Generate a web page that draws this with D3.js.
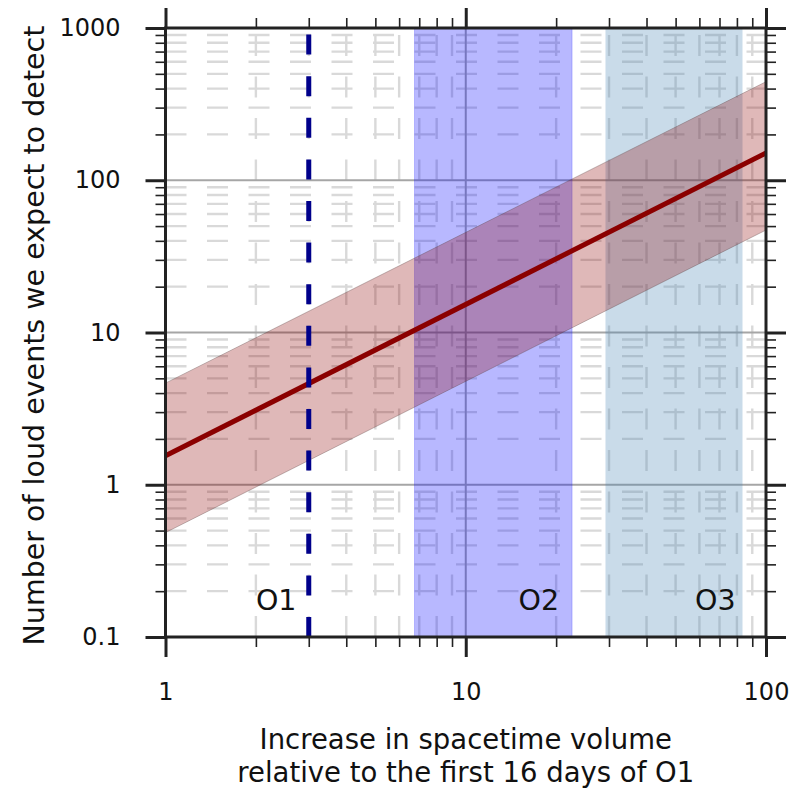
<!DOCTYPE html>
<html><head><meta charset="utf-8">
<script src="https://cdn.jsdelivr.net/npm/d3@7"></script>
<style>body{margin:0;background:#fff} svg{display:block}</style>
</head><body><svg id="c" width="790" height="791"></svg>
<script>
// ---- data ----
const xDomain = [1, 100];
const yDomain = [0.1, 1000];
const xMajorTicks = [1, 10, 100];
const xTickLabels = ["1", "10", "100"];
const yMajorTicks = [0.1, 1, 10, 100, 1000];
const yTickLabels = ["0.1", "1", "10", "100", "1000"];
const lineX = [1, 100];
const lineY = [1.55, 151];
const bandLower = [0.485, 47.1];
const bandUpper = [4.65, 444];
const o1Line = 3;
const runNames = ["O1", "O2", "O3"];
const runLabelX = [2, 15, 58];
const runLabelY = 0.15;
const o2Span = [6.75, 22.6];
const o3Span = [29.2, 83.5];
const xTitle = ["Increase in spacetime volume", "relative to the first 16 days of O1"];
const yTitle = "Number of loud events we expect to detect";

// ---- layout ----
const L = 165.5, R = 766, T = 28, B = 637;
const FONT = "'DejaVu Sans', sans-serif";
const svg = d3.select("#c");
const x = d3.scaleLog().domain(xDomain).range([L, R]);
const y = d3.scaleLog().domain(yDomain).range([B, T]);
const xAll = x.ticks();
const yAll = y.ticks();
const xMinor = xAll.filter(v => !xMajorTicks.some(m => Math.abs(m - v) < 1e-9));
const yMinor = yAll.filter(v => !yMajorTicks.some(m => Math.abs(m - v) / m < 1e-9));

// minor grid (dashed)
const g = svg.append("g");
g.selectAll("line.hmin").data(yMinor).join("line")
  .attr("x1", L).attr("x2", R).attr("y1", d => y(d)).attr("y2", d => y(d))
  .attr("stroke", "#d9d9d9").attr("stroke-width", 2.4).attr("stroke-dasharray", "21,20.5");
g.selectAll("line.vmin").data(xMinor).join("line")
  .attr("x1", d => x(d)).attr("x2", d => x(d)).attr("y1", B).attr("y2", T)
  .attr("stroke", "#d9d9d9").attr("stroke-width", 2.4).attr("stroke-dasharray", "21,20.5");
// major grid
g.selectAll("line.hmaj").data(yMajorTicks.slice(1, -1)).join("line")
  .attr("x1", L).attr("x2", R).attr("y1", d => y(d)).attr("y2", d => y(d))
  .attr("stroke", "#a6a6a6").attr("stroke-width", 2);
g.selectAll("line.vmaj").data(xMajorTicks.slice(1, -1)).join("line")
  .attr("x1", d => x(d)).attr("x2", d => x(d)).attr("y1", B).attr("y2", T)
  .attr("stroke", "#a6a6a6").attr("stroke-width", 2);

// run spans
svg.append("rect").attr("x", x(o2Span[0])).attr("y", T)
  .attr("width", x(o2Span[1]) - x(o2Span[0])).attr("height", B - T)
  .attr("fill", "rgb(0,0,255)").attr("fill-opacity", 0.28)
  .attr("stroke", "rgb(0,0,255)").attr("stroke-opacity", 0.2).attr("stroke-width", 1);
svg.append("rect").attr("x", x(o3Span[0])).attr("y", T)
  .attr("width", x(o3Span[1]) - x(o3Span[0])).attr("height", B - T)
  .attr("fill", "rgb(70,130,180)").attr("fill-opacity", 0.29);

// band
const bandData = lineX.map((v, i) => ({x: v, lo: bandLower[i], hi: bandUpper[i]}));
svg.append("path").datum(bandData)
  .attr("d", d3.area().x(d => x(d.x)).y0(d => y(d.lo)).y1(d => y(d.hi)))
  .attr("fill", "rgb(139,0,0)").attr("fill-opacity", 0.28)
  .attr("stroke", "rgb(90,60,60)").attr("stroke-opacity", 0.35).attr("stroke-width", 1);

// central line
svg.append("path").datum(lineX.map((v, i) => [v, lineY[i]]))
  .attr("d", d3.line().x(d => x(d[0])).y(d => y(d[1])))
  .attr("fill", "none").attr("stroke", "#8b0000").attr("stroke-width", 5);

// O1 dashed line
svg.append("line").attr("x1", x(o1Line)).attr("x2", x(o1Line)).attr("y1", B).attr("y2", T)
  .attr("stroke", "#00008b").attr("stroke-width", 5).attr("stroke-dasharray", "20,21.6");

// run labels
svg.selectAll("text.run").data(runNames).join("text")
  .attr("x", (d, i) => x(runLabelX[i])).attr("y", y(runLabelY))
  .attr("font-family", FONT).attr("font-size", 28.5).attr("fill", "#111")
  .text(d => d);

// axes
function styleAxis(sel, w) {
  sel.select(".domain").remove();
  sel.selectAll(".tick line").attr("stroke", "#222").attr("stroke-width", w);
  sel.selectAll("text").attr("font-family", FONT).attr("font-size", 24).attr("fill", "#111");
}
const noLab = () => "";
// bottom
svg.append("g").attr("transform", `translate(0,${B})`)
  .call(d3.axisBottom(x).tickValues(xMinor).tickSize(10).tickFormat(noLab)).call(s => styleAxis(s, 1.6));
svg.append("g").attr("transform", `translate(0,${B})`)
  .call(d3.axisBottom(x).tickValues(xMajorTicks).tickSize(20).tickPadding(26)
    .tickFormat((d, i) => xTickLabels[i])).call(s => styleAxis(s, 3));
// top
svg.append("g").attr("transform", `translate(0,${T})`)
  .call(d3.axisTop(x).tickValues(xMinor).tickSize(10).tickFormat(noLab)).call(s => styleAxis(s, 1.6));
svg.append("g").attr("transform", `translate(0,${T})`)
  .call(d3.axisTop(x).tickValues(xMajorTicks).tickSize(20).tickFormat(noLab)).call(s => styleAxis(s, 3));
// left
svg.append("g").attr("transform", `translate(${L},0)`)
  .call(d3.axisLeft(y).tickValues(yMinor).tickSize(10).tickFormat(noLab)).call(s => styleAxis(s, 1.6));
svg.append("g").attr("transform", `translate(${L},0)`)
  .call(d3.axisLeft(y).tickValues(yMajorTicks).tickSize(20).tickPadding(25)
    .tickFormat((d, i) => yTickLabels[i])).call(s => styleAxis(s, 3));
// right
svg.append("g").attr("transform", `translate(${R},0)`)
  .call(d3.axisRight(y).tickValues(yMinor).tickSize(10).tickFormat(noLab)).call(s => styleAxis(s, 1.6));
svg.append("g").attr("transform", `translate(${R},0)`)
  .call(d3.axisRight(y).tickValues(yMajorTicks).tickSize(20).tickFormat(noLab)).call(s => styleAxis(s, 3));

// frame
svg.append("rect").attr("x", L).attr("y", T).attr("width", R - L).attr("height", B - T)
  .attr("fill", "none").attr("stroke", "#222").attr("stroke-width", 3);

// titles
svg.selectAll("text.xt").data(xTitle).join("text").attr("class", "xt")
  .attr("text-anchor", "middle").attr("x", (L + R) / 2).attr("y", (d, i) => 749 + i * 33)
  .attr("font-family", FONT).attr("font-size", 27.5).attr("fill", "#111").text(d => d);
svg.append("text").attr("transform", `translate(44,${(T + B) / 2 + 3}) rotate(-90)`)
  .attr("text-anchor", "middle")
  .attr("font-family", FONT).attr("font-size", 28.5).attr("fill", "#111").text(yTitle);
</script></body></html>
